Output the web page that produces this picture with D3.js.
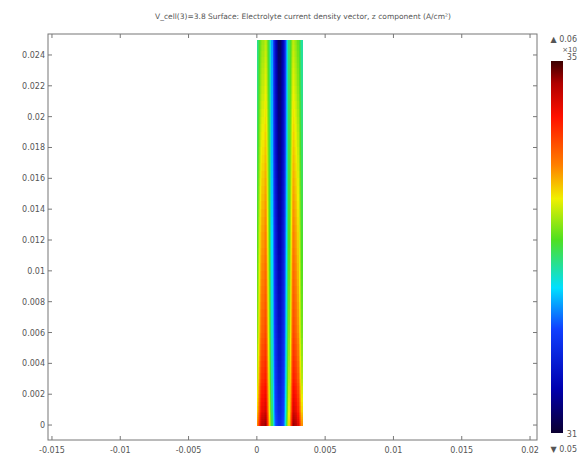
<!DOCTYPE html>
<html>
<head>
<meta charset="utf-8">
<script src="https://cdn.jsdelivr.net/npm/d3@7"></script>
<style>
  body { margin: 0; background: #fff; }
  svg { display: block; }
  text { font-family: "DejaVu Sans", sans-serif; fill: #555; }
</style>
</head>
<body>
<div id="chart"></div>
<script>
// grid (x across the strip, y up the strip)
var xCols = [0, 0.00033, 0.00066, 0.00099, 0.00132, 0.00165, 0.00198, 0.00231, 0.00264, 0.00297, 0.0033];
var yRows = [0.025, 0.022, 0.018, 0.014, 0.010, 0.006, 0.003, 0.001, 0];
// relative colour-bar level, 0 = bottom, 1 = top
var field = [
	[0.44, 0.55, 0.60, 0.45, 0.17, 0.03, 0.16, 0.45, 0.60, 0.55, 0.43],
	[0.45, 0.58, 0.63, 0.46, 0.18, 0.05, 0.17, 0.46, 0.63, 0.58, 0.44],
	[0.47, 0.62, 0.67, 0.47, 0.19, 0.07, 0.18, 0.47, 0.67, 0.62, 0.46],
	[0.49, 0.66, 0.71, 0.48, 0.21, 0.09, 0.20, 0.48, 0.71, 0.66, 0.48],
	[0.51, 0.70, 0.75, 0.50, 0.23, 0.12, 0.22, 0.50, 0.75, 0.70, 0.50],
	[0.53, 0.74, 0.79, 0.52, 0.25, 0.15, 0.24, 0.52, 0.79, 0.74, 0.52],
	[0.57, 0.80, 0.84, 0.55, 0.27, 0.18, 0.26, 0.55, 0.84, 0.80, 0.56],
	[0.63, 0.86, 0.90, 0.58, 0.29, 0.21, 0.28, 0.58, 0.90, 0.86, 0.62],
	[0.69, 0.92, 0.96, 0.61, 0.31, 0.23, 0.30, 0.61, 0.96, 0.92, 0.68]
];
var xTicks = [-0.015, -0.01, -0.005, 0, 0.005, 0.01, 0.015, 0.02];
var xTickLabels = ["-0.015", "-0.01", "-0.005", "0", "0.005", "0.01", "0.015", "0.02"];
var yTicks = [0, 0.002, 0.004, 0.006, 0.008, 0.01, 0.012, 0.014, 0.016, 0.018, 0.02, 0.022, 0.024];
var yTickLabels = ["0", "0.002", "0.004", "0.006", "0.008", "0.01", "0.012", "0.014", "0.016", "0.018", "0.02", "0.022", "0.024"];
var rainbowStops = [0, 0.12, 0.28, 0.39, 0.52, 0.63, 0.72, 0.85, 0.94, 1];
var rainbowColors = ["#0b0030", "#0000b0", "#1040ff", "#00e0ff", "#50e020", "#f0f000", "#ff8000", "#ff1000", "#b00000", "#3a0000"];
var title = "V_cell(3)=3.8  Surface: Electrolyte current density vector, z component (A/cm\u00b2)";
var maxLabel = "\u25b2 0.06", minLabel = "\u25bc 0.05";

var W = 581, H = 458;
var frame = {left: 48, right: 537, top: 34, bottom: 440};

var svg = d3.select("#chart").append("svg")
	.attr("width", W)
	.attr("height", H);

var x = d3.scaleLinear().domain([-0.01529, 0.02051]).range([frame.left, frame.right]);
var y = d3.scaleLinear().domain([-0.00097, 0.02536]).range([frame.bottom, frame.top]);
var color = d3.scaleLinear().domain(rainbowStops).range(rainbowColors).clamp(true);

// surface: bilinear fill between grid nodes
var surf = svg.append("g").attr("shape-rendering", "crispEdges");
var subX = 4, subY = 8;
for (var j = 0; j < yRows.length - 1; j++) {
	for (var i = 0; i < xCols.length - 1; i++) {
		var v00 = field[j][i], v10 = field[j][i + 1], v01 = field[j + 1][i], v11 = field[j + 1][i + 1];
		for (var a = 0; a < subX; a++) {
			for (var b = 0; b < subY; b++) {
				var tx = (a + 0.5) / subX, ty = (b + 0.5) / subY;
				var v = (v00 * (1 - tx) + v10 * tx) * (1 - ty) + (v01 * (1 - tx) + v11 * tx) * ty;
				var xa = xCols[i] + (xCols[i + 1] - xCols[i]) * a / subX;
				var xb = xCols[i] + (xCols[i + 1] - xCols[i]) * (a + 1) / subX;
				var ya = yRows[j] + (yRows[j + 1] - yRows[j]) * b / subY;
				var yb = yRows[j] + (yRows[j + 1] - yRows[j]) * (b + 1) / subY;
				surf.append("rect")
					.attr("x", x(xa))
					.attr("y", y(ya))
					.attr("width", x(xb) - x(xa) + 0.6)
					.attr("height", y(yb) - y(ya) + 0.6)
					.attr("fill", color(v));
			}
		}
	}
}

// frame and ticks on all four sides
svg.append("rect")
	.attr("x", frame.left).attr("y", frame.top)
	.attr("width", frame.right - frame.left).attr("height", frame.bottom - frame.top)
	.attr("fill", "none").attr("stroke", "#777").attr("stroke-width", 1);

var axes = svg.append("g").attr("stroke", "#777").attr("stroke-width", 1);
xTicks.forEach(function(t, k) {
	axes.append("line").attr("x1", x(t)).attr("x2", x(t)).attr("y1", frame.bottom).attr("y2", frame.bottom - 4);
	axes.append("line").attr("x1", x(t)).attr("x2", x(t)).attr("y1", frame.top).attr("y2", frame.top + 4);
	svg.append("text")
		.attr("x", x(t)).attr("y", 453)
		.attr("text-anchor", "middle")
		.style("font-size", "8px")
		.text(xTickLabels[k]);
});
yTicks.forEach(function(t, k) {
	axes.append("line").attr("x1", frame.left).attr("x2", frame.left + 4).attr("y1", y(t)).attr("y2", y(t));
	axes.append("line").attr("x1", frame.right).attr("x2", frame.right - 4).attr("y1", y(t)).attr("y2", y(t));
	svg.append("text")
		.attr("x", 45).attr("y", y(t) + 3)
		.attr("text-anchor", "end")
		.style("font-size", "8px")
		.text(yTickLabels[k]);
});

svg.append("text")
	.attr("x", 303).attr("y", 19)
	.attr("text-anchor", "middle")
	.style("font-size", "7.5px")
	.text(title);

// colour bar
var cb = {x: 551, w: 12, top: 61, bottom: 433};
var grad = svg.append("defs").append("linearGradient")
	.attr("id", "rainbow")
	.attr("x1", "0%").attr("y1", "100%")
	.attr("x2", "0%").attr("y2", "0%");
rainbowStops.forEach(function(s, k) {
	grad.append("stop").attr("offset", s * 100 + "%").attr("stop-color", rainbowColors[k]);
});
svg.append("rect")
	.attr("x", cb.x).attr("y", cb.top)
	.attr("width", cb.w).attr("height", cb.bottom - cb.top)
	.style("fill", "url(#rainbow)");

svg.append("text").attr("x", 577).attr("y", 42).attr("text-anchor", "end").style("font-size", "8px").text(maxLabel);
svg.append("text").attr("x", 577).attr("y", 52).attr("text-anchor", "end").style("font-size", "7px").text("\u00d710");
svg.append("text").attr("x", 577).attr("y", 60).attr("text-anchor", "end").style("font-size", "8px").text("35");
svg.append("text").attr("x", 577).attr("y", 437).attr("text-anchor", "end").style("font-size", "8px").text("31");
svg.append("text").attr("x", 577).attr("y", 452).attr("text-anchor", "end").style("font-size", "8px").text(minLabel);
</script>
</body>
</html>
